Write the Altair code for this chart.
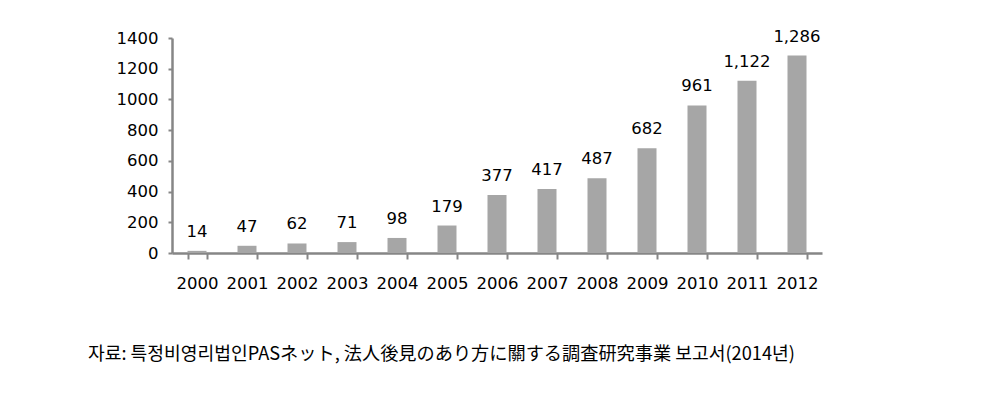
import altair as alt
import pandas as pd

years = ["2000", "2001", "2002", "2003", "2004", "2005", "2006",
         "2007", "2008", "2009", "2010", "2011", "2012"]
counts = [14, 47, 62, 71, 98, 179, 377, 417, 487, 682, 961, 1122, 1286]
y_ticks = [0, 200, 400, 600, 800, 1000, 1200, 1400]
caption = "자료: 특정비영리법인PASネット, 法人後見のあり方に關する調査研究事業 보고서(2014년)"

df = pd.DataFrame({"year": years, "count": counts})
df["label"] = [f"{v:,}" for v in counts]

FONT = "DejaVu Sans"
FS = 16.5
AXIS_COLOR = "#868686"

x = alt.X("year:N", sort=years, title=None,
          scale=alt.Scale(paddingInner=0.62, paddingOuter=0.31),
          axis=alt.Axis(labelAngle=0, labelFont=FONT, labelFontSize=FS,
                        labelColor="#000000", labelPadding=16,
                        domainColor=AXIS_COLOR, domainWidth=2.5,
                        tickColor=AXIS_COLOR, tickWidth=2, tickSize=6,
                        tickBand="extent", grid=False))
y = alt.Y("count:Q", title=None,
          scale=alt.Scale(domain=[0, 1400], nice=False),
          axis=alt.Axis(values=y_ticks, format="d", labelOverlap=False,
                        labelFont=FONT, labelFontSize=FS,
                        labelColor="#000000", labelPadding=10,
                        domainColor=AXIS_COLOR, domainWidth=2.5,
                        tickColor=AXIS_COLOR, tickWidth=2, tickSize=4,
                        grid=False))

bars = alt.Chart(df).mark_bar(color="#a6a6a6").encode(x=x, y=y)

labels = alt.Chart(df).mark_text(
    font=FONT, fontSize=FS, color="#000000", baseline="alphabetic", dy=-14
).encode(x=x, y=y, text="label:N")

cap = alt.Chart(pd.DataFrame({"t": [caption]})).mark_text(
    font="Noto Sans CJK KR", fontSize=18.2, color="#000000",
    align="left", baseline="middle"
).encode(x=alt.value(-84), y=alt.value(317), text="t:N")

chart = alt.layer(bars, labels, cap).properties(
    width=650, height=215,
    autosize=alt.AutoSizeParams(type="none"),
    padding={"left": 164, "top": 30, "right": 154, "bottom": 140},
).configure_view(stroke=None)

chart.save("out.html", embed_options={"renderer": "svg", "actions": False})
